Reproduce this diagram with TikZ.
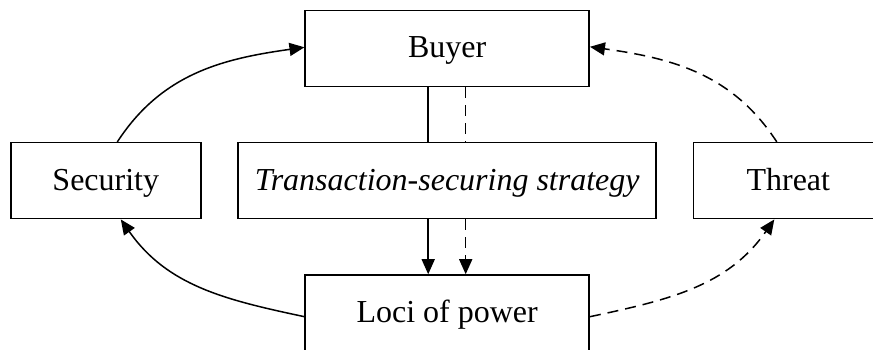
\documentclass[tikz,border=0pt]{standalone}
\usepackage{fontspec}
\setmainfont{Liberation Serif}
\usetikzlibrary{arrows.meta}
\begin{document}
\begin{tikzpicture}[x=1pt,y=1pt,
  box/.style={draw,line width=1.5pt,inner sep=0pt,minimum height=76pt,text height=26pt,text depth=7pt,font=\fontsize{32}{36}\selectfont},
  conn/.style={line width=1.5pt},
  arr/.style={conn,-{Triangle[length=15pt,width=13pt]}},
  dsh/.style={dash pattern=on 11pt off 7pt}]
\useasboundingbox (0,0) rectangle (873,350);
\clip (0,0) rectangle (873,350);
\node[box,minimum width=284pt] (buyer) at (447.2,301.7) {Buyer};
\node[box,minimum width=190pt] (sec) at (105.8,169.3) {Security};
\node[box,minimum width=418pt] (trans) at (447.2,169.3) {\itshape Transaction-securing strategy};
\node[box,minimum width=190pt] (threat) at (788.3,169.3) {Threat};
\node[box,minimum width=284pt] (loci) at (447.2,37) {Loci of power};
% vertical links
\draw[conn] ([xshift=-19pt]buyer.south) -- ([xshift=-19pt]trans.north);
\draw[conn,dsh] ([xshift=18.5pt]buyer.south) -- ([xshift=18.5pt]trans.north);
\draw[arr] ([xshift=-19pt]trans.south) -- ([xshift=-19pt]loci.north);
\draw[arr,dsh] ([xshift=18.5pt]trans.south) -- ([xshift=18.5pt]loci.north);
% curved links
\draw[arr] ([xshift=11.5pt]sec.north) to[out=57,in=188] ([yshift=1pt]buyer.west);
\draw[arr] ([yshift=-3.7pt]loci.west) to[out=168,in=-55] ([xshift=15pt]sec.south);
\draw[arr,dsh] ([xshift=-11.5pt]threat.north) to[out=123,in=-8] ([yshift=1.5pt]buyer.east);
\draw[arr,dsh] ([yshift=-3.7pt]loci.east) to[out=12,in=235] ([xshift=-14pt]threat.south);
\end{tikzpicture}
\end{document}
